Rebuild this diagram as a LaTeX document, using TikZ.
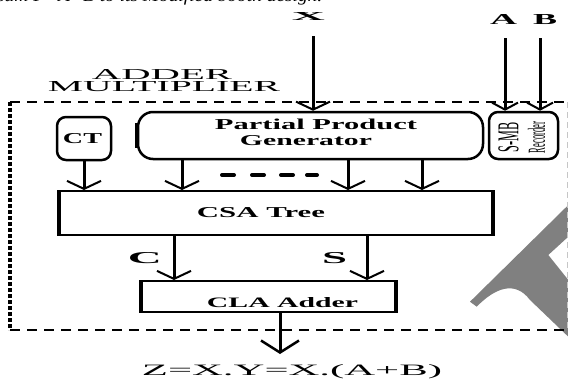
\documentclass[tikz,border=0pt]{standalone}
\usepackage{fontspec}
\setmainfont{Liberation Serif}
\usepackage{graphicx}
\usetikzlibrary{arrows.meta}
\newcommand{\fitt}[3]{\resizebox{#1pt}{#2pt}{#3}}
\begin{document}
\begin{tikzpicture}[x=1pt,y=-1pt,
  txt/.style={inner sep=0pt, anchor=base},
  rbox/.style={draw, line width=2.5pt, rounded corners=9pt, inner sep=0pt},
  sbox/.style={draw, line width=2pt, inner sep=0pt},
  arr/.style={line width=3pt, -{Straight Barb[length=8pt,width=34pt,line width=2pt]}},
  arrin/.style={line width=3pt, -{Straight Barb[length=7pt,width=26pt,line width=2pt]}},
  arrout/.style={line width=3pt, -{Straight Barb[length=12pt,width=38pt,line width=2.5pt]}},
  dotdash/.style={line width=4pt, line cap=round},
  frametop/.style={line width=2pt, dash pattern=on 10pt off 7pt},
  frameleft/.style={line width=4pt, dash pattern=on 3.5pt off 2.5pt},
  frameright/.style={line width=1pt, gray!45, dash pattern=on 6pt off 4pt}
]
\useasboundingbox (0,0) rectangle (568,380);

% watermark-like gray shape
\fill[gray] (568.3,205) -- (470,301.7) -- (476.7,306.7)
  .. controls (495,288) and (515,280) .. (530,300)
  -- (568.3,336.7) -- (568.3,280) -- (548.3,255) -- (568.3,236.7) -- cycle;

% clipped caption line at the top
\node[inner sep=0pt, anchor=base west] (cap) at (-3,1.5) {\fitt{325}{12}{\itshape sum F=A+B to its Modified booth design.}};

% frame
\draw[frametop] (10,102) -- (567,102);
\draw[frametop] (10,330) -- (567,330);
\draw[frameleft] (10,102) -- (10,330);
\draw[frameright] (567,102) -- (567,330);

\node[txt] (adder) at (162,79.5) {\fitt{140}{10}{ADDER}};
\node[txt] (mult) at (164,92) {\fitt{232}{10}{MULTIPLIER}};

% boxes
\node[rbox, minimum width=54pt, minimum height=43pt] (ct) at (84,138.5) {};
\node[rbox, rounded corners=15pt, minimum width=345pt, minimum height=47pt] (pp) at (310.5,135.5) {};
\node[rbox, minimum width=69pt, minimum height=47pt] (smb) at (523.5,135.5) {};
\node[sbox, minimum width=432pt, minimum height=44pt] (csa) at (276,213) {};
\node[sbox, minimum width=253pt, minimum height=31pt] (cla) at (268.5,296.5) {};
\draw[line width=4pt] (csa.north west) -- (csa.south west);
\draw[line width=4pt] (csa.north east) -- (csa.south east);
\draw[line width=4pt] (cla.north west) -- (cla.south west);
\draw[line width=4pt] (cla.north east) -- (cla.south east);
\draw[line width=4pt] ([yshift=-12pt]pp.north west) -- ([yshift=12pt]pp.south west);

% box texts
\node[txt] (ctt) at (82.5,143) {\fitt{39}{10}{\bfseries CT}};
\node[txt] (ppt1) at (316,129) {\fitt{202}{10.5}{\bfseries Partial Product}};
\node[txt] (ppt2) at (306,145) {\fitt{132}{10}{\bfseries Generator}};
\node[inner sep=0pt, rotate=90] (smbt1) at (508.5,137) {\fitt{30}{20}{S-MB}};
\node[inner sep=0pt, rotate=90] (smbt2) at (536.5,137.5) {\fitt{31}{17}{Recorder}};
\node[txt] (csat) at (261,217) {\fitt{128}{10}{\bfseries CSA Tree}};
\node[txt] (clat) at (282.5,307) {\fitt{151}{10}{\bfseries CLA Adder}};

% inputs
\node[txt] (xl) at (308.5,20) {\fitt{33}{8}{\bfseries X}};
\node[txt] (al) at (503.5,24) {\fitt{27}{10}{\bfseries A}};
\node[txt] (bl) at (545,24) {\fitt{24}{10}{\bfseries B}};
\coordinate (xs) at (313,36);
\coordinate (as) at (505,38);
\coordinate (bs) at (540,38);
\draw[arr] (xs) -- (xs |- pp.north);
\draw[arrin] (as) -- (as |- smb.north);
\draw[arrin] (bs) -- (bs |- smb.north);

% PP and CT to CSA
\coordinate (p1) at (182,0);
\coordinate (p2) at (348,0);
\coordinate (p3) at (422,0);
\draw[arr] (ct.south) -- (ct.south |- csa.north);
\draw[arr] (pp.south -| p1) -- (csa.north -| p1);
\draw[arr] (pp.south -| p2) -- (csa.north -| p2);
\draw[arr] (pp.south -| p3) -- (csa.north -| p3);
\draw[dotdash] (222,175) -- (234,175);
\draw[dotdash] (252,175) -- (264,175);
\draw[dotdash] (281,175) -- (293,175);
\draw[dotdash] (307,175) -- (317,175);

% CSA to CLA
\coordinate (cx) at (174,0);
\coordinate (sx) at (367,0);
\draw[arr] (csa.south -| cx) -- (cla.north -| cx);
\draw[arr] (csa.south -| sx) -- (cla.north -| sx);
\node[txt] (cl) at (145,263) {\fitt{34}{11}{\bfseries C}};
\node[txt] (sl) at (334.5,263) {\fitt{25}{11}{\bfseries S}};

% output
\coordinate (oend) at (280,354);
\draw[arrout] (cla.south -| oend) -- (oend);
\node[txt] (zl) at (292,375) {\fitt{300}{11}{Z=X.Y=X.(A+B)}};
\end{tikzpicture}
\end{document}
